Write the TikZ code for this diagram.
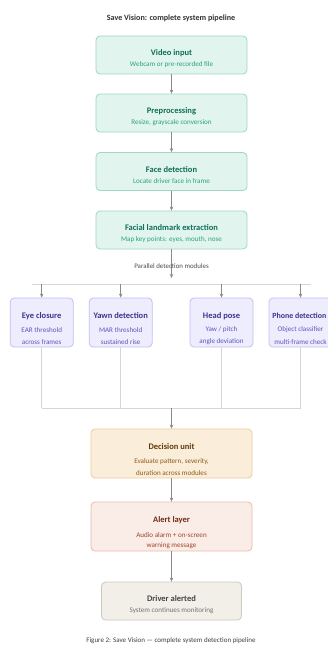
\documentclass[tikz,border=0pt]{standalone}
\usepackage{fontspec}
\setmainfont{Carlito}
\usetikzlibrary{arrows.meta}
\definecolor{gfill}{HTML}{E1F5EE}
\definecolor{gdraw}{HTML}{9ED8C0}
\definecolor{gtxt}{HTML}{0F6E56}
\definecolor{gsub}{HTML}{2BA37C}
\definecolor{pfill}{HTML}{EEEDFE}
\definecolor{pdraw}{HTML}{C3BEF1}
\definecolor{ptxt}{HTML}{3C3489}
\definecolor{psub}{HTML}{5E55BE}
\definecolor{ofill}{HTML}{FAEEDA}
\definecolor{odraw}{HTML}{EDCD97}
\definecolor{otxt}{HTML}{633806}
\definecolor{osub}{HTML}{8F5A17}
\definecolor{rfill}{HTML}{FAECE7}
\definecolor{rdraw}{HTML}{EDBBA9}
\definecolor{rtxt}{HTML}{712B13}
\definecolor{rsub}{HTML}{A2462A}
\definecolor{nfill}{HTML}{F1EFE8}
\definecolor{ndraw}{HTML}{CBC9C0}
\definecolor{ntxt}{HTML}{444441}
\definecolor{nsub}{HTML}{74736E}
\definecolor{arrc}{HTML}{8A8A86}
\definecolor{linec}{HTML}{D6D6D2}
\tikzset{
  box/.style={rounded corners=4pt, line width=0.8pt, inner sep=0pt},
  gbox/.style={box, fill=gfill, draw=gdraw, minimum width=151pt, minimum height=38pt},
  pbox/.style={box, fill=pfill, draw=pdraw, minimum width=63pt, minimum height=49pt},
  obox/.style={box, fill=ofill, draw=odraw, minimum width=161pt, minimum height=49pt},
  rbox/.style={box, fill=rfill, draw=rdraw, minimum width=161pt, minimum height=49pt},
  nbox/.style={box, fill=nfill, draw=ndraw, minimum width=140pt, minimum height=38pt},
  ttl/.style={font=\fontsize{8.5}{9}\selectfont\bfseries, inner sep=0pt},
  sub/.style={font=\fontsize{7.1}{8}\selectfont, inner sep=0pt},
  arr/.style={draw=arrc, line width=0.7pt, -{Stealth[length=4pt,width=3.5pt]}},
  ln/.style={draw=linec, line width=0.7pt},
}
\begin{document}
\begin{tikzpicture}[x=1pt,y=-1pt]
\useasboundingbox[fill=white] (0,0) rectangle (328,645);
\node[font=\fontsize{8.1}{9}\selectfont\bfseries, text=black!80, inner sep=0pt] (title) at (171,18) {Save Vision: complete system pipeline};

% main green chain
\node[gbox] (video) at (171.5,55) {};
\node[ttl, text=gtxt] (videot) at (171.5,53) {Video input};
\node[sub, text=gsub] (videos) at (171.5,65) {Webcam or pre-recorded file};

\node[gbox] (prep) at (171.5,113) {};
\node[ttl, text=gtxt] (prept) at (171.5,111) {Preprocessing};
\node[sub, text=gsub] (preps) at (171.5,123) {Resize, grayscale conversion};

\node[gbox] (face) at (171.5,171.5) {};
\node[ttl, text=gtxt] (facet) at (171.5,169.5) {Face detection};
\node[sub, text=gsub] (faces) at (171.5,181.5) {Locate driver face in frame};

\node[gbox] (land) at (171.5,230) {};
\node[ttl, text=gtxt] (landt) at (171.5,228) {Facial landmark extraction};
\node[sub, text=gsub] (lands) at (171.5,240) {Map key points: eyes, mouth, nose};

\draw[arr] (video) -- (prep);
\draw[arr] (prep) -- (face);
\draw[arr] (face) -- (land);

% split
\coordinate (splitend) at (171.5,278);
\draw[arr] (land) -- (splitend);
\node[font=\fontsize{6.9}{8}\selectfont, text=black!70, inner sep=0pt] (par) at (171.5,266) {Parallel detection modules};
\coordinate (hl) at (32,284);
\coordinate (hr) at (311,284);
\draw[ln] (hl) -- (hr);

% modules
\node[pbox] (eye) at (41.7,322.5) {};
\node[ttl, text=ptxt] at (41.7,316) {Eye closure};
\node[sub, text=psub] at (41.7,330) {EAR threshold};
\node[sub, text=psub] at (41.7,342) {across frames};

\node[pbox] (yawn) at (120.7,322.5) {};
\node[ttl, text=ptxt] at (120.7,316) {Yawn detection};
\node[sub, text=psub] at (120.7,330) {MAR threshold};
\node[sub, text=psub] at (120.7,342) {sustained rise};

\node[pbox] (head) at (221.5,322.5) {};
\node[ttl, text=ptxt] at (221.5,316) {Head pose};
\node[sub, text=psub] at (221.5,330) {Yaw / pitch};
\node[sub, text=psub] at (221.5,342) {angle deviation};

\node[pbox] (phone) at (300.5,322.5) {};
\node[ttl, text=ptxt, font=\fontsize{7.9}{9}\selectfont\bfseries] at (299.3,316) {Phone detection};
\node[sub, text=psub] at (300.5,330) {Object classifier};
\node[sub, text=psub] at (300.5,342) {multi-frame check};

\foreach \n/\x in {eye/41.7, yawn/120.7, head/221.5, phone/300.5}{
  \coordinate (top\n) at (\x,284);
  \coordinate (bot\n) at (\x,408);
  \draw[arr] (top\n) -- (\n.north);
  \draw[ln] (\n.south) -- (bot\n);
}
\draw[ln] (boteye) -- (botphone);
\coordinate (merge) at (171.5,408);

% decision
\node[obox] (dec) at (171.5,453.5) {};
\node[ttl, text=otxt] at (171.5,447) {Decision unit};
\node[sub, text=osub] at (171.5,462) {Evaluate pattern, severity,};
\node[sub, text=osub] at (171.5,473) {duration across modules};
\draw[arr] (merge) -- (dec);

% alert
\node[rbox] (alert) at (171.5,526.5) {};
\node[ttl, text=rtxt] at (171.5,520) {Alert layer};
\node[sub, text=rsub] at (171.5,535) {Audio alarm + on-screen};
\node[sub, text=rsub] at (171.5,546) {warning message};
\draw[arr] (dec) -- (alert);

% driver
\node[nbox] (drv) at (171.5,601) {};
\node[ttl, text=ntxt] at (171.5,599) {Driver alerted};
\node[sub, text=nsub] at (171.5,611) {System continues monitoring};
\draw[arr] (alert) -- (drv);

\node[font=\fontsize{7}{8}\selectfont, text=black!75, inner sep=0pt] (cap) at (171,641) {Figure 2: Save Vision --- complete system detection pipeline};
\end{tikzpicture}
\end{document}
